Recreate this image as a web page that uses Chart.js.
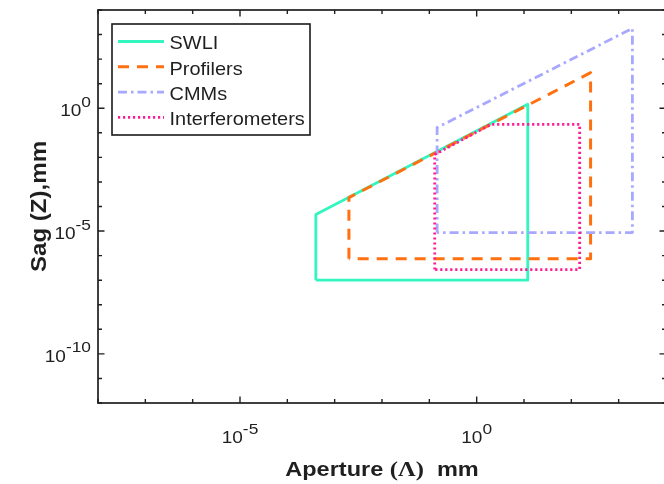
<!DOCTYPE html>
<html>
<head>
<meta charset="utf-8">
<script src="https://cdn.jsdelivr.net/npm/chart.js@4.4.1/dist/chart.umd.min.js"></script>
<style>
  html, body { margin: 0; padding: 0; background: #fff; overflow: hidden; }
  canvas { display: block; }
</style>
</head>
<body>
<canvas id="sag" width="668" height="484"></canvas>
<script>
// Sag vs aperture coverage of the measurement techniques, drawn as closed outlines on log-log axes.
const seriesNames = ["SWLI", "Profilers", "CMMs", "Interferometers"];

const swliAperture = [4e-4, 4e-4, 12, 12, 4e-4];
const swliSag = [1e-7, 4.7e-5, 1.45, 1e-7, 1e-7];

const profilerAperture = [2e-3, 2e-3, 255, 255, 2e-3];
const profilerSag = [7.5e-7, 2.3e-4, 28, 7.5e-7, 7.5e-7];

const cmmAperture = [0.146, 0.146, 1950, 1950, 0.146];
const cmmSag = [8.7e-6, 0.163, 1790, 8.7e-6, 8.7e-6];

const interfAperture = [0.13, 0.13, 2, 150, 150, 0.13];
const interfSag = [2.7e-7, 0.013, 0.22, 0.22, 2.7e-7, 2.7e-7];

// decades that get a tick mark, and the ones that carry a label
const xTickExps = [-8, -7, -6, -5, -4, -3, -2, -1, 0, 1, 2, 3, 4];
const yTickExps = [-12, -11, -10, -9, -8, -7, -6, -5, -4, -3, -2, -1, 0, 1, 2, 3, 4];
const xLabelExps = [-5, 0];
const yLabelExps = [-10, -5, 0];

const xTitle = ["Aperture ", "(\u039B)", "  mm"];
const yTitle = "Sag (Z),mm";

const INK = "#1f1f1f";
const SANS = '"Liberation Sans", Arial, sans-serif';
const SERIF = '"Liberation Serif", "Times New Roman", serif';
const TEXT_SX = 1.12; // the reference glyphs run wider than Liberation Sans

const seriesStyles = [
  { color: "#33f5c0", width: 2.8, dash: [] },
  { color: "#ff7010", width: 3, dash: [11, 8] },
  { color: "#a8a8ff", width: 2.8, dash: [9, 4, 2.5, 4] },
  { color: "#ff1a94", width: 2.8, dash: [2.2, 2.8] },
];

function points(xs, ys) {
  return xs.map((x, i) => ({ x, y: ys[i] }));
}

const outlines = [
  points(swliAperture, swliSag),
  points(profilerAperture, profilerSag),
  points(cmmAperture, cmmSag),
  points(interfAperture, interfSag),
];

const datasets = outlines.map((data, i) => ({
  label: seriesNames[i],
  data,
  showLine: true,
  fill: false,
  tension: 0,
  pointRadius: 0,
  borderColor: seriesStyles[i].color,
  borderWidth: seriesStyles[i].width,
  borderDash: seriesStyles[i].dash,
  borderJoinStyle: "round",
  order: outlines.length - i,
}));

function stretchedText(ctx, text, x, y, sx) {
  ctx.save();
  ctx.translate(x, y);
  ctx.scale(sx, 1);
  ctx.fillText(text, 0, 0);
  ctx.restore();
}

function powerLabel(ctx, exp, x, baseline, align) {
  const baseFont = `17px ${SANS}`;
  const expFont = `15.5px ${SANS}`;
  ctx.font = baseFont;
  const wb = ctx.measureText("10").width * TEXT_SX;
  ctx.font = expFont;
  const we = ctx.measureText(String(exp)).width * TEXT_SX;
  const x0 = align === "center" ? x - (wb + we) / 2 : x - wb - we;
  ctx.font = baseFont;
  stretchedText(ctx, "10", x0, baseline, TEXT_SX);
  ctx.font = expFont;
  stretchedText(ctx, String(exp), x0 + wb, baseline - 9.5, TEXT_SX);
}

const axisFrame = {
  id: "axisFrame",
  afterDatasetsDraw(chart) {
    const { ctx, chartArea: a, scales } = chart;
    const xs = scales.x;
    const ys = scales.y;
    ctx.save();
    ctx.strokeStyle = INK;
    ctx.fillStyle = INK;

    ctx.lineWidth = 1.7;
    ctx.strokeRect(a.left, a.top, a.right - a.left, a.bottom - a.top);

    // inward ticks on all four sides
    ctx.lineWidth = 1.4;
    ctx.beginPath();
    xs.ticks.forEach((t) => {
      const px = xs.getPixelForValue(t.value);
      const len = xLabelExps.includes(Math.round(Math.log10(t.value))) ? 6.5 : 4;
      ctx.moveTo(px, a.bottom); ctx.lineTo(px, a.bottom - len);
      ctx.moveTo(px, a.top); ctx.lineTo(px, a.top + len);
    });
    ys.ticks.forEach((t) => {
      const py = ys.getPixelForValue(t.value);
      const len = yLabelExps.includes(Math.round(Math.log10(t.value))) ? 6.5 : 4;
      ctx.moveTo(a.left, py); ctx.lineTo(a.left + len, py);
      ctx.moveTo(a.right, py); ctx.lineTo(a.right - len, py);
    });
    ctx.stroke();

    ctx.textAlign = "left";
    ctx.textBaseline = "alphabetic";
    xLabelExps.forEach((e) => powerLabel(ctx, e, xs.getPixelForValue(10 ** e), a.bottom + 40, "center"));
    yLabelExps.forEach((e) => powerLabel(ctx, e, a.left - 7, ys.getPixelForValue(10 ** e) + 8, "right"));

    // x title: sans words around a serif (Λ)
    const fonts = [`bold 21px ${SANS}`, `bold 22px ${SERIF}`, `bold 21px ${SANS}`];
    const widths = xTitle.map((s, i) => { ctx.font = fonts[i]; return ctx.measureText(s).width * TEXT_SX; });
    let tx = (a.left + a.right) / 2 - widths.reduce((p, w) => p + w, 0) / 2;
    xTitle.forEach((s, i) => {
      ctx.font = fonts[i];
      stretchedText(ctx, s, tx, 476, TEXT_SX);
      tx += widths[i];
    });

    // y title, rotated
    ctx.font = `bold 21.5px ${SANS}`;
    ctx.save();
    ctx.translate(45.5, (a.top + a.bottom) / 2);
    ctx.rotate(-Math.PI / 2);
    ctx.scale(TEXT_SX, 1);
    ctx.textAlign = "center";
    ctx.fillText(yTitle, 0, 0);
    ctx.restore();

    ctx.restore();
  },
};

const boxLegend = {
  id: "boxLegend",
  afterDraw(chart) {
    const ctx = chart.ctx;
    const box = { left: 112, top: 24, right: 310, bottom: 135 };
    ctx.save();
    ctx.fillStyle = "#fff";
    ctx.fillRect(box.left, box.top, box.right - box.left, box.bottom - box.top);
    ctx.strokeStyle = "#1a1a1a";
    ctx.lineWidth = 1.6;
    ctx.strokeRect(box.left, box.top, box.right - box.left, box.bottom - box.top);

    chart.data.datasets.forEach((ds, i) => {
      const y = 41.5 + i * 25.3;
      ctx.strokeStyle = ds.borderColor;
      ctx.lineWidth = ds.borderWidth;
      ctx.setLineDash(ds.borderDash);
      ctx.beginPath();
      ctx.moveTo(118, y);
      ctx.lineTo(164, y);
      ctx.stroke();
      ctx.setLineDash([]);
      ctx.fillStyle = INK;
      ctx.font = `19px ${SANS}`;
      ctx.textAlign = "left";
      ctx.textBaseline = "alphabetic";
      stretchedText(ctx, ds.label, 169.5, y + 7.7, 1.05);
    });
    ctx.restore();
  },
};

new Chart(document.getElementById("sag"), {
  type: "scatter",
  data: { datasets },
  options: {
    responsive: false,
    animation: false,
    devicePixelRatio: 1,
    layout: { padding: { top: 10, right: 2, left: 0, bottom: 0 } },
    plugins: { legend: { display: false }, tooltip: { enabled: false } },
    scales: {
      x: {
        type: "logarithmic",
        min: 1e-8,
        max: 1e4,
        ticks: { display: false },
        grid: { display: false },
        border: { display: false },
        afterBuildTicks: (s) => { s.ticks = xTickExps.map((e) => ({ value: 10 ** e })); },
        afterFit: (s) => { s.height = 81; },
      },
      y: {
        type: "logarithmic",
        min: 1e-12,
        max: 1e4,
        ticks: { display: false },
        grid: { display: false },
        border: { display: false },
        afterBuildTicks: (s) => { s.ticks = yTickExps.map((e) => ({ value: 10 ** e })); },
        afterFit: (s) => { s.width = 98; },
      },
    },
  },
  plugins: [axisFrame, boxLegend],
});
</script>
</body>
</html>
